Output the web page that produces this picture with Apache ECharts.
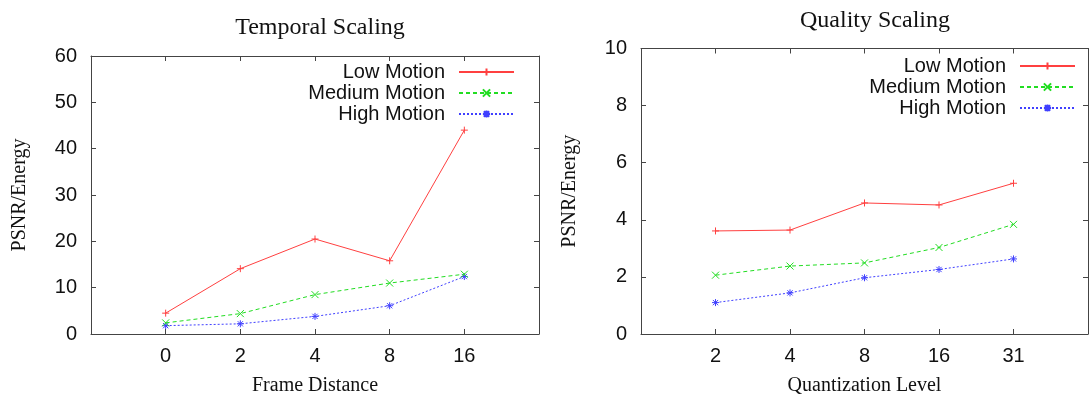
<!DOCTYPE html>
<html>
<head>
<meta charset="utf-8">
<script src="https://cdn.jsdelivr.net/npm/echarts@6/dist/echarts.min.js"></script>
<style>
  html, body { margin: 0; padding: 0; background: #fff; }
  #chart { width: 1091px; height: 401px; }
</style>
</head>
<body>
<div id="chart"></div>
<script>
// 数据
const seriesNames = ['Low Motion', 'Medium Motion', 'High Motion'];

const temporalCategories = ['0', '2', '4', '8', '16'];
const temporalLow = [4.5, 14.1, 20.5, 15.8, 44.0];
const temporalMedium = [2.4, 4.4, 8.5, 11.0, 12.9];
const temporalHigh = [1.8, 2.2, 3.8, 6.1, 12.4];
const temporalYTicks = [0, 10, 20, 30, 40, 50, 60];

const qualityCategories = ['2', '4', '8', '16', '31'];
const qualityLow = [3.61, 3.64, 4.59, 4.52, 5.28];
const qualityMedium = [2.06, 2.38, 2.49, 3.03, 3.84];
const qualityHigh = [1.10, 1.44, 1.97, 2.26, 2.63];
const qualityYTicks = [0, 2, 4, 6, 8, 10];

// 样式
const sansFont = '"Liberation Sans", Arial, sans-serif';
const serifFont = '"Liberation Serif", "Times New Roman", serif';
const frameColor = '#444';
const colors = ['#ff4040', '#22dd22', '#4040ff'];
const lineTypes = ['solid', [4, 3], [2, 2]];
const symbols = [
    'path://M0,4L8,4M4,0L4,8',                       // +
    'path://M0,0L8,8M0,8L8,0',                       // x
    'path://M0,4L8,4M4,0L4,8M1,1L7,7M1,7L7,1'        // *
];

// 把类别序号变成坐标点
function toPoints(values) {
    return values.map((v, i) => [i, v]);
}

function makeXAxis(gridIndex, categories, position) {
    const isBottom = position === 'bottom';
    return {
        type: 'value',
        gridIndex: gridIndex,
        position: position,
        min: -1,
        max: categories.length,
        interval: 1,
        axisLine: { show: true, onZero: false, lineStyle: { color: frameColor, width: 1 } },
        axisTick: { show: true, inside: true, length: 5, lineStyle: { color: frameColor } },
        splitLine: { show: false },
        axisLabel: {
            show: isBottom,
            margin: 12,
            fontFamily: sansFont,
            fontSize: 20,
            color: '#111',
            formatter: function (v) {
                return categories[v] !== undefined ? categories[v] : '';
            }
        }
    };
}

function makeYAxis(gridIndex, ticks, position) {
    const isLeft = position === 'left';
    return {
        type: 'value',
        gridIndex: gridIndex,
        position: position,
        min: ticks[0],
        max: ticks[ticks.length - 1],
        interval: ticks[1] - ticks[0],
        axisLine: { show: true, onZero: false, lineStyle: { color: frameColor, width: 1 } },
        axisTick: { show: true, inside: true, length: 5, lineStyle: { color: frameColor } },
        splitLine: { show: false },
        axisLabel: {
            show: isLeft,
            margin: 14,
            fontFamily: sansFont,
            fontSize: 20,
            color: '#111'
        }
    };
}

function makeSeries(xAxisIndex, yAxisIndex, dataList) {
    return dataList.map((values, k) => ({
        name: seriesNames[k],
        type: 'line',
        xAxisIndex: xAxisIndex,
        yAxisIndex: yAxisIndex,
        data: toPoints(values),
        symbol: symbols[k],
        symbolSize: 7,
        showAllSymbol: true,
        lineStyle: { color: colors[k], width: 1, type: lineTypes[k] },
        itemStyle: { color: colors[k], borderColor: colors[k], borderWidth: 1 },
        z: 3 - k
    }));
}

function makeLegend(right, top) {
    return {
        orient: 'vertical',
        align: 'right',
        right: right,
        top: top,
        padding: 0,
        itemWidth: 55,
        itemHeight: 9,
        itemGap: 1,
        selectedMode: false,
        textStyle: { fontFamily: sansFont, fontSize: 20, color: '#111', padding: [0, 9, 0, 0] },
        data: seriesNames
    };
}

const option = {
    animation: false,
    backgroundColor: '#fff',
    title: [
        {
            text: 'Temporal Scaling',
            left: 315,
            top: 11,
            textAlign: 'center',
            textStyle: { fontFamily: serifFont, fontSize: 24, fontWeight: 'normal', color: '#111' }
        },
        {
            text: 'Quality Scaling',
            left: 870,
            top: 4,
            textAlign: 'center',
            textStyle: { fontFamily: serifFont, fontSize: 24, fontWeight: 'normal', color: '#111' }
        }
    ],
    legend: [makeLegend(576, 62), makeLegend(15, 56)],
    grid: [
        { left: 91, right: 552, top: 56, bottom: 66 },
        { left: 641, right: -10, top: 48.5, bottom: 65 }
    ],
    xAxis: [
        Object.assign(makeXAxis(0, temporalCategories, 'bottom'), {
            name: 'Frame Distance',
            nameLocation: 'middle',
            nameGap: 42,
            nameTextStyle: { fontFamily: serifFont, fontSize: 20, color: '#111' }
        }),
        makeXAxis(0, temporalCategories, 'top'),
        Object.assign(makeXAxis(1, qualityCategories, 'bottom'), {
            name: 'Quantization Level',
            nameLocation: 'middle',
            nameGap: 42,
            nameTextStyle: { fontFamily: serifFont, fontSize: 20, color: '#111' }
        }),
        makeXAxis(1, qualityCategories, 'top')
    ],
    yAxis: [
        Object.assign(makeYAxis(0, temporalYTicks, 'left'), {
            name: 'PSNR/Energy',
            nameLocation: 'middle',
            nameGap: 61,
            nameTextStyle: { fontFamily: serifFont, fontSize: 20, color: '#111' }
        }),
        makeYAxis(0, temporalYTicks, 'right'),
        Object.assign(makeYAxis(1, qualityYTicks, 'left'), {
            name: 'PSNR/Energy',
            nameLocation: 'middle',
            nameGap: 61,
            nameTextStyle: { fontFamily: serifFont, fontSize: 20, color: '#111' }
        }),
        makeYAxis(1, qualityYTicks, 'right')
    ],
    series: [].concat(
        makeSeries(0, 0, [temporalLow, temporalMedium, temporalHigh]),
        makeSeries(2, 2, [qualityLow, qualityMedium, qualityHigh])
    )
};

const myChart = echarts.init(document.getElementById('chart'));
myChart.setOption(option);
</script>
</body>
</html>
